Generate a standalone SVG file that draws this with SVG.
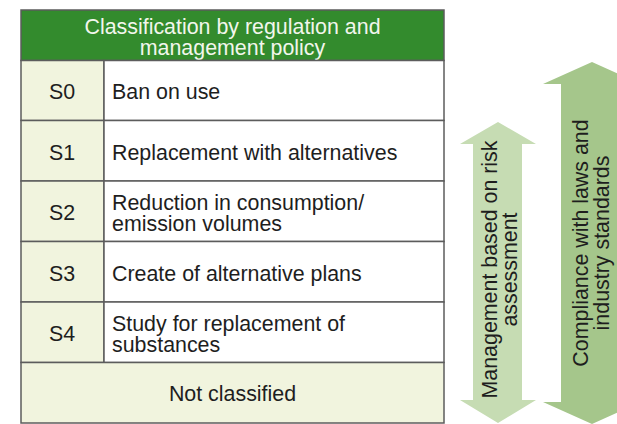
<svg xmlns="http://www.w3.org/2000/svg" width="617" height="424" viewBox="0 0 617 424">
<style>
text{font-family:"Liberation Sans",Arial,Helvetica,sans-serif;font-size:21.4px;fill:#1e1e1e}
.hd{fill:#f2f6ec;text-anchor:middle}
.lab{text-anchor:middle}
.mid{text-anchor:middle}
.cell{fill:#ffffff;stroke:#5c5c5c;stroke-width:1.5}
.lc{fill:#f1f4de;stroke:#5c5c5c;stroke-width:1.5}
</style>
<rect x="0" y="0" width="617" height="424" fill="#ffffff"/>
<g id="table">
  <g id="header">
    <rect x="21" y="10" width="423" height="50.5" fill="#338b2d" stroke="#5c5c5c" stroke-width="1.5"/>
    <text class="hd" x="232.5" y="34">Classification by regulation and</text>
    <text class="hd" x="232.5" y="55">management policy</text>
  </g>
  <g id="row-s0">
    <rect class="lc" x="21" y="60.5" width="83" height="60"/>
    <rect class="cell" x="104" y="60.5" width="340" height="60"/>
    <text class="lab" x="62" y="99">S0</text>
    <text x="112" y="99">Ban on use</text>
  </g>
  <g id="row-s1">
    <rect class="lc" x="21" y="120.5" width="83" height="60.5"/>
    <rect class="cell" x="104" y="120.5" width="340" height="60.5"/>
    <text class="lab" x="62" y="159.5">S1</text>
    <text x="112" y="159.5">Replacement with alternatives</text>
  </g>
  <g id="row-s2">
    <rect class="lc" x="21" y="181" width="83" height="60.5"/>
    <rect class="cell" x="104" y="181" width="340" height="60.5"/>
    <text class="lab" x="62" y="220">S2</text>
    <text x="112" y="210">Reduction in consumption/</text>
    <text x="112" y="231">emission volumes</text>
  </g>
  <g id="row-s3">
    <rect class="lc" x="21" y="241.5" width="83" height="60.5"/>
    <rect class="cell" x="104" y="241.5" width="340" height="60.5"/>
    <text class="lab" x="62" y="280.5">S3</text>
    <text x="112" y="280.5">Create of alternative plans</text>
  </g>
  <g id="row-s4">
    <rect class="lc" x="21" y="302" width="83" height="60.5"/>
    <rect class="cell" x="104" y="302" width="340" height="60.5"/>
    <text class="lab" x="62" y="341">S4</text>
    <text x="112" y="331">Study for replacement of</text>
    <text x="112" y="352">substances</text>
  </g>
  <g id="row-nc">
    <rect class="lc" x="21" y="362.5" width="423" height="60.5"/>
    <text class="mid" x="232.5" y="401">Not classified</text>
  </g>
</g>
<g id="arrow-risk">
  <polygon points="498,122 536,144 522,144 522,400 536,400 498,423 460,400 473,400 473,144 460,144" fill="#c6dcb3"/>
  <text class="mid" transform="translate(497,269.5) rotate(-90)">Management based on risk</text>
  <text class="mid" transform="translate(517,269.5) rotate(-90)">assessment</text>
</g>
<g id="arrow-compliance">
  <polygon points="592,62 641,84 623,84 623,402 641,402 592,424 543,402 561,402 561,84 543,84" fill="#a5c68b"/>
  <text class="mid" transform="translate(588,243) rotate(-90)">Compliance with laws and</text>
  <text class="mid" transform="translate(609,243) rotate(-90)">industry standards</text>
</g>
<g id="connectors"/>
</svg>
